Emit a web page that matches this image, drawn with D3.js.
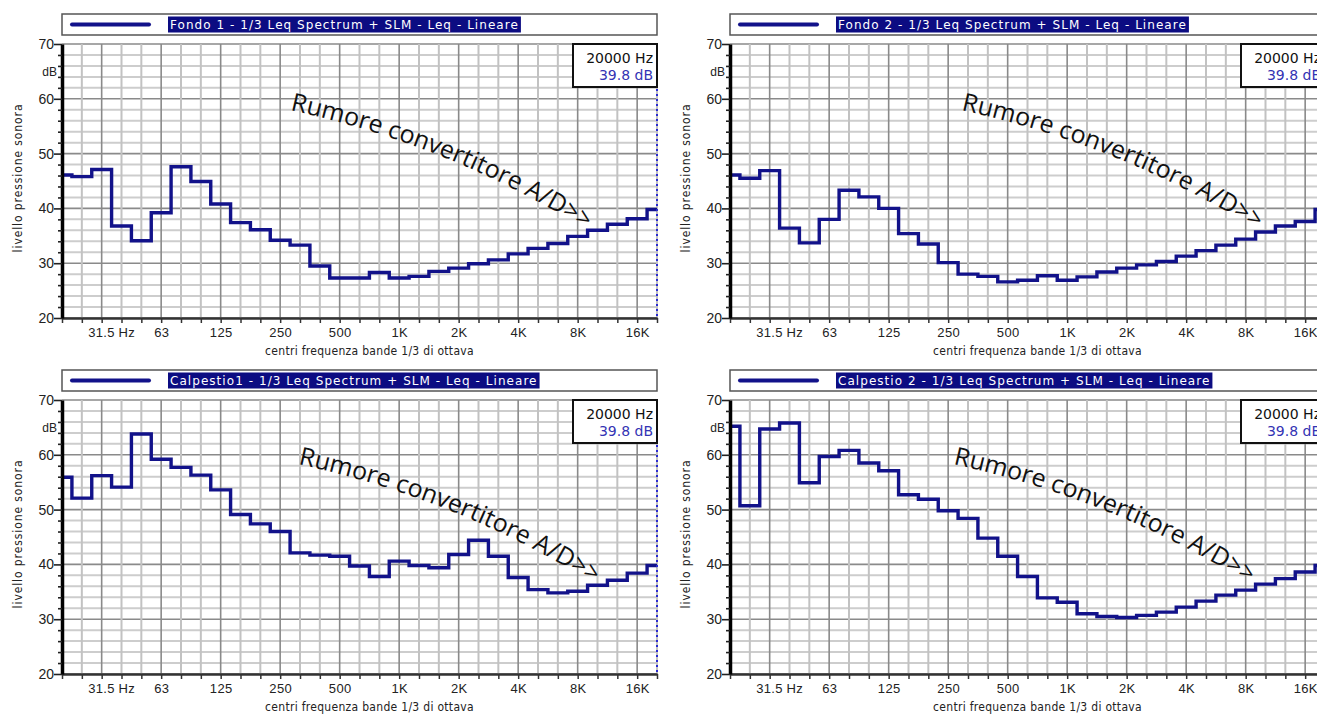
<!doctype html>
<html>
<head>
  <meta charset="UTF-8">
  <script src="https://cdn.jsdelivr.net/npm/d3@7"></script>
  <style>
    body { margin: 0; background: #fff; }
    svg { display: block; font-family: "DejaVu Sans Condensed", "DejaVu Sans", sans-serif; font-stretch: condensed; }
    .wide { font-family: "DejaVu Sans", sans-serif; font-stretch: normal; }
    .note { font-family: "Comic Sans MS", "Open Sans", sans-serif; font-stretch: normal; }
  </style>
</head>
<body>
<svg width="1317" height="715"></svg>
<script>
// 1/3 octave band centres (x categories)
const bands = ["20","25","31.5","40","50","63","80","100","125","160","200","250","315","400","500",
  "630","800","1K","1.25K","1.6K","2K","2.5K","3.15K","4K","5K","6.3K","8K","10K","12.5K","16K","20K"];
const labeledBands = ["31.5","63","125","250","500","1K","2K","4K","8K","16K"];
const yTicks = [20, 30, 40, 50, 60, 70];

const titles = [
  "Fondo 1 - 1/3 Leq Spectrum + SLM - Leq - Lineare",
  "Fondo 2 - 1/3 Leq Spectrum + SLM - Leq - Lineare",
  "Calpestio1 - 1/3 Leq Spectrum + SLM - Leq - Lineare",
  "Calpestio 2 - 1/3 Leq Spectrum + SLM - Leq - Lineare"
];

// Leq per band, dB
const fondo1 = [46.1, 45.8, 47.1, 36.8, 34.1, 39.2, 47.6, 44.9, 40.8, 37.4, 36.1, 34.2, 33.3, 29.5, 27.3,
  27.3, 28.3, 27.3, 27.6, 28.5, 29.1, 29.9, 30.6, 31.7, 32.7, 33.6, 34.9, 36.0, 37.1, 38.1, 39.8];
const fondo2 = [46.1, 45.5, 46.9, 36.4, 33.7, 38.0, 43.3, 42.1, 40.0, 35.4, 33.5, 30.1, 28.0, 27.6, 26.6,
  26.9, 27.7, 26.9, 27.5, 28.4, 29.1, 29.7, 30.3, 31.3, 32.3, 33.3, 34.4, 35.7, 36.8, 37.6, 39.8];
const calpestio1 = [55.9, 52.1, 56.2, 54.1, 63.8, 59.2, 57.7, 56.3, 53.6, 49.1, 47.4, 46.0, 42.1, 41.7, 41.5,
  39.7, 37.8, 40.6, 39.8, 39.4, 41.8, 44.4, 41.5, 37.6, 35.4, 34.8, 35.1, 36.2, 37.1, 38.4, 39.8];
const calpestio2 = [65.2, 50.7, 64.7, 65.8, 54.9, 59.7, 60.8, 58.5, 57.1, 52.7, 51.9, 49.8, 48.4, 44.8, 41.5,
  37.8, 33.9, 33.1, 31.0, 30.5, 30.3, 30.7, 31.3, 32.2, 33.3, 34.4, 35.3, 36.4, 37.4, 38.6, 39.8];

const cursorFreq = "20000 Hz";
const cursorLevel = "39.8 dB";
const noteText = "Rumore convertitore A/D>>";

const allSeries = [fondo1, fondo2, calpestio1, calpestio2];

// layout
const panels = [
  {x: 62, y: 44, nx: 0, ny: 0},
  {x: 730, y: 44, nx: 3, ny: 0},
  {x: 62, y: 400, nx: 8, ny: -2},
  {x: 730, y: 400, nx: -5, ny: -2}
];
const width = 595, height = 274;
const lineColor = "#12128a";

const svg = d3.select("svg");

const x = d3.scalePoint().domain(bands).range([0, width]);
const step = x.step();
const y = d3.scaleLinear().domain([20, 70]).range([height, 0]);

const line = d3.line().x(d => d[0]).y(d => y(d[1]));

panels.forEach(function(p, i) {
  const g = svg.append("g").attr("transform", "translate(" + p.x + "," + p.y + ")");
  const values = allSeries[i];

  // grid
  g.append("g").selectAll("line")
    .data(d3.range(20, 71, 2))
    .enter().append("line")
    .attr("x1", 0).attr("x2", width)
    .attr("y1", d => y(d)).attr("y2", d => y(d))
    .attr("stroke", d => d % 10 === 0 ? "#8a8a8a" : "#cdcdcd")
    .attr("stroke-width", d => d % 10 === 0 ? 1.6 : 2);

  g.append("g").selectAll("line")
    .data(bands.slice(1))
    .enter().append("line")
    .attr("x1", d => x(d)).attr("x2", d => x(d))
    .attr("y1", 0).attr("y2", height)
    .attr("stroke", d => labeledBands.includes(d) ? "#8a8a8a" : "#c2c2c2")
    .attr("stroke-width", d => labeledBands.includes(d) ? 1.6 : 2);

  // legend box
  const leg = g.append("g").attr("transform", "translate(0,-30)");
  leg.append("rect")
    .attr("x", 0).attr("y", 0).attr("width", width).attr("height", 21)
    .attr("fill", "#fff").attr("stroke", "#555").attr("stroke-width", 1.5);
  leg.append("line")
    .attr("x1", 10).attr("x2", 87).attr("y1", 10.5).attr("y2", 10.5)
    .attr("stroke", lineColor).attr("stroke-width", 4).attr("stroke-linecap", "round");
  const hl = leg.append("rect")
    .attr("x", 106).attr("y", 2.5).attr("height", 16)
    .attr("fill", "#0c0c82");
  const tt = leg.append("text")
    .attr("class", "wide")
    .attr("x", 108).attr("y", 15)
    .attr("fill", "#fff")
    .style("font-size", "12px")
    .style("letter-spacing", "1.05px")
    .text(titles[i]);
  hl.attr("width", tt.node().getComputedTextLength() + 4);

  // step curve
  const pts = [];
  bands.forEach(function(b, k) {
    pts.push([Math.max(x(b) - step / 2, 0), values[k]]);
    pts.push([Math.min(x(b) + step / 2, width), values[k]]);
  });
  g.append("path")
    .datum(pts)
    .attr("d", line)
    .attr("fill", "none")
    .attr("stroke", lineColor)
    .attr("stroke-width", 3.4)
    .attr("stroke-linejoin", "miter");

  // cursor
  g.append("line")
    .attr("x1", x("20K")).attr("x2", x("20K"))
    .attr("y1", 45).attr("y2", height)
    .attr("stroke", "#2a2ad0").attr("stroke-width", 2)
    .attr("stroke-dasharray", "2,3");

  // axes
  const xa = g.append("g")
    .attr("transform", "translate(0," + height + ")")
    .call(d3.axisBottom(x).tickSize(5).tickSizeOuter(0)
      .tickFormat(d => d === "31.5" ? "31.5 Hz" : (labeledBands.includes(d) ? d : "")));
  xa.select(".domain").attr("stroke", "#333").attr("stroke-width", 2.5);
  xa.selectAll(".tick line").attr("stroke", "#333").attr("stroke-width", 1.5);
  xa.selectAll(".tick text")
    .attr("y", 10)
    .style("font-size", "13px")
    .style("letter-spacing", "0.3px")
    .attr("fill", "#222");
  xa.selectAll(".tick text").filter(d => d === "31.5")
    .attr("text-anchor", "start").attr("dx", -14);

  const ya = g.append("g")
    .call(d3.axisLeft(y).tickValues(d3.range(20, 71, 2)).tickSize(4).tickSizeOuter(0)
      .tickFormat(d => yTicks.includes(d) ? d : ""));
  ya.select(".domain").attr("stroke", "#000").attr("stroke-width", 3.5);
  ya.selectAll(".tick line")
    .attr("stroke", "#222").attr("stroke-width", 1.6)
    .attr("x2", d => yTicks.includes(d) ? -8 : -4);
  ya.selectAll(".tick text")
    .attr("x", -8)
    .style("font-size", "14px")
    .attr("fill", "#222");
  ya.append("text")
    .attr("x", -5).attr("y", y(65)).attr("dy", "0.35em")
    .attr("text-anchor", "end")
    .attr("fill", "#222")
    .style("font-size", "12px")
    .text("dB");

  // axis titles
  g.append("text")
    .attr("transform", "translate(-40," + (height / 2 - 3) + ") rotate(-90)")
    .attr("text-anchor", "middle")
    .attr("fill", "#222")
    .style("font-size", "12px")
    .style("letter-spacing", "0.9px")
    .text("livello pressione sonora");
  g.append("text")
    .attr("x", width / 2 + 10).attr("y", height + 37)
    .attr("text-anchor", "middle")
    .attr("fill", "#222")
    .style("font-size", "12px")
    .style("letter-spacing", "0.3px")
    .text("centri frequenza bande 1/3 di ottava");

  // readout box
  const rb = g.append("g").attr("transform", "translate(" + (width - 84) + ",0)");
  rb.append("rect")
    .attr("width", 84).attr("height", 43)
    .attr("fill", "#fff").attr("stroke", "#111").attr("stroke-width", 2);
  rb.append("text").attr("class", "wide").attr("x", 80).attr("y", 19).attr("text-anchor", "end")
    .style("font-size", "14px").attr("fill", "#111").text(cursorFreq);
  rb.append("text").attr("class", "wide").attr("x", 80).attr("y", 36).attr("text-anchor", "end")
    .style("font-size", "14px").attr("fill", "#3434b4").text(cursorLevel);

  // annotation along a gentle arc
  const pid = "notePath" + i;
  g.append("path")
    .attr("id", pid)
    .attr("d", "M" + (228 + p.nx) + "," + (66 + p.ny) +
      " Q" + (420 + p.nx) + "," + (108 + p.ny) + " " + (575 + p.nx) + "," + (220 + p.ny))
    .attr("fill", "none");
  g.append("text")
    .attr("class", "note")
    .style("font-size", "25px")
    .attr("fill", "#111")
    .append("textPath")
    .attr("href", "#" + pid)
    .text(noteText);
});
</script>
</body>
</html>
